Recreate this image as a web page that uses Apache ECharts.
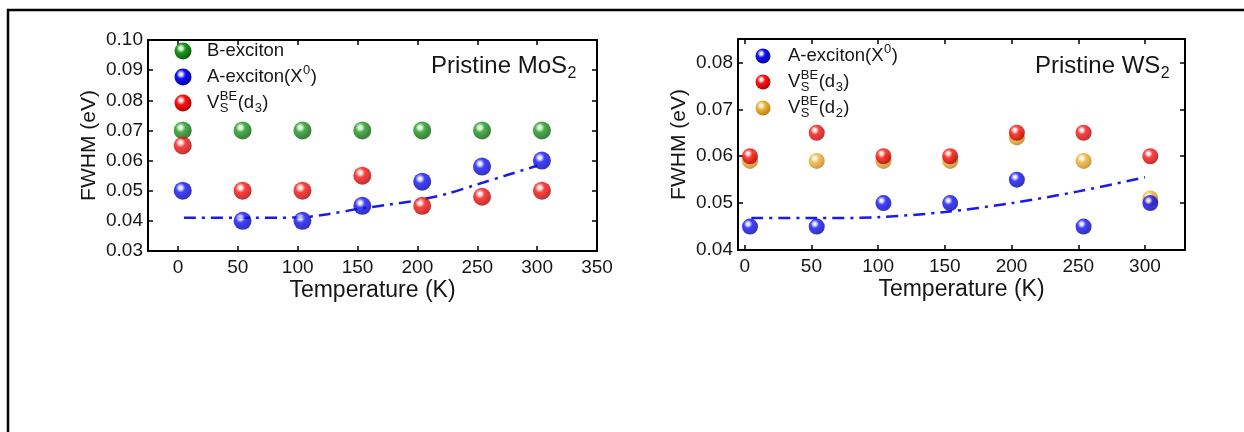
<!DOCTYPE html>
<html>
<head>
<meta charset="utf-8">
<script src="https://cdn.jsdelivr.net/npm/echarts@6/dist/echarts.min.js"></script>
<style>
  html, body { margin: 0; padding: 0; background: #fff; }
  #chart { width: 1244px; height: 432px; }
</style>
</head>
<body>
<div id="chart"></div>
<script>
// Measurement temperatures (K)
const temps = [4, 54, 104, 154, 204, 254, 304];

// Pristine MoS2 linewidths (eV)
const mosBExciton = [0.070, 0.070, 0.070, 0.070, 0.070, 0.070, 0.070];
const mosAExciton = [0.050, 0.040, 0.040, 0.045, 0.053, 0.058, 0.060];
const mosVsD3     = [0.065, 0.050, 0.050, 0.055, 0.045, 0.048, 0.050];
// Fitted A-exciton broadening curve, MoS2
const mosFitT = [5, 50, 100, 125, 150, 175, 200, 225, 250, 275, 300];
const mosFit  = [0.0410, 0.0410, 0.0411, 0.0422, 0.0439, 0.0453, 0.0468, 0.0490, 0.0521, 0.0552, 0.0583];

// Pristine WS2 linewidths (eV)
const wsAExciton = [0.045, 0.045, 0.050, 0.050, 0.055, 0.045, 0.050];
const wsVsD3     = [0.060, 0.065, 0.060, 0.060, 0.065, 0.065, 0.060];
const wsVsD2     = [0.059, 0.059, 0.059, 0.059, 0.064, 0.059, 0.051];
// Fitted A-exciton broadening curve, WS2
const wsFitT = [5, 50, 100, 150, 200, 250, 300];
const wsFit  = [0.0468, 0.0468, 0.0470, 0.0481, 0.0500, 0.0525, 0.0555];

// Tick labels
const mosXTicks = [0, 50, 100, 150, 200, 250, 300, 350];
const mosYTicks = [0.03, 0.04, 0.05, 0.06, 0.07, 0.08, 0.09, 0.10];
const wsXTicks  = [0, 50, 100, 150, 200, 250, 300];
const wsYTicks  = [0.04, 0.05, 0.06, 0.07, 0.08];

const FONT = 'Arial, "Liberation Sans", sans-serif';
const INK = '#161616';

const palette = {
  green:  ['#d8f5d8', '#1c9a1c', '#0b560b'],
  blue:   ['#dcdcff', '#1010ff', '#00009a'],
  red:    ['#ffe0e0', '#ff1010', '#a80000'],
  yellow: ['#fff3d8', '#efb23a', '#b87c10']
};

function sphere(name) {
  const c = palette[name];
  return new echarts.graphic.RadialGradient(0.38, 0.34, 0.7, [
    { offset: 0, color: '#ffffff' },
    { offset: 0.14, color: c[0] },
    { offset: 0.38, color: c[1] },
    { offset: 1, color: c[2] }
  ]);
}

function zip(xs, ys) { return xs.map((x, i) => [x, ys[i]]); }

// --- text helpers for legend/title with sub/superscripts ---
const measureCtx = document.createElement('canvas').getContext('2d');
function textWidth(s, size) {
  measureCtx.font = size + 'px ' + FONT;
  return measureCtx.measureText(s).width;
}
function txt(t, x, y, size) {
  return {
    type: 'text', x: x, y: y, z: 100,
    style: {
      text: t, font: size + 'px ' + FONT, fill: INK,
      textAlign: 'left', textVerticalAlign: 'middle',
      align: 'left', verticalAlign: 'middle'
    }
  };
}
function label(x, y, parts, size) {
  const els = [];
  let cx = x;
  parts.forEach(p => {
    if (typeof p === 'string') {
      els.push(txt(p, cx, y, size));
      cx += textWidth(p, size);
    } else {
      const s = Math.round(size * 0.68);
      let w = 0;
      if (p.sup !== undefined) {
        els.push(txt(p.sup, cx + 0.5, y - size * 0.38, s));
        w = Math.max(w, textWidth(p.sup, s));
      }
      if (p.sub !== undefined) {
        els.push(txt(p.sub, cx + 0.5, y + size * 0.32, s));
        w = Math.max(w, textWidth(p.sub, s));
      }
      cx += w + 1;
    }
  });
  return els;
}
function legendDot(x, y, r, colorName) {
  return { type: 'circle', z: 100, shape: { cx: x, cy: y, r: r }, style: { fill: sphere(colorName) } };
}

const chart = echarts.init(document.getElementById('chart'), null, { renderer: 'canvas' });

function xAxesFor(gi, min, max, ticks) {
  const common = {
    type: 'value', gridIndex: gi, min: min, max: max,
    splitLine: { show: false },
    axisLine: { show: true, onZero: false, lineStyle: { color: '#000', width: 2 } },
    axisTick: { show: true, inside: true, length: 5, customValues: ticks, lineStyle: { color: '#000', width: 1.5 } }
  };
  return [
    Object.assign({}, common, {
      position: 'bottom',
      axisLabel: { customValues: ticks, fontSize: 19, fontFamily: FONT, color: INK, margin: 7 },
      name: 'Temperature (K)', nameLocation: 'middle', nameGap: 28,
      nameTextStyle: { fontSize: 23, fontFamily: FONT, color: INK }
    }),
    Object.assign({}, common, { position: 'top', axisLabel: { show: false } })
  ];
}
function yAxesFor(gi, min, max, ticks) {
  const common = {
    type: 'value', gridIndex: gi, min: min, max: max,
    splitLine: { show: false },
    axisLine: { show: true, onZero: false, lineStyle: { color: '#000', width: 2 } },
    axisTick: { show: true, inside: true, length: 5, customValues: ticks, lineStyle: { color: '#000', width: 1.5 } }
  };
  return [
    Object.assign({}, common, {
      position: 'left',
      axisLabel: { customValues: ticks, fontSize: 19, fontFamily: FONT, color: INK, margin: 5, formatter: v => v.toFixed(2) },
      name: 'FWHM (eV)', nameLocation: 'middle', nameGap: 48,
      nameTextStyle: { fontSize: 21, fontFamily: FONT, color: INK }
    }),
    Object.assign({}, common, { position: 'right', axisLabel: { show: false } })
  ];
}

function scatter(xi, yi, data, colorName, size, z) {
  return {
    type: 'scatter', xAxisIndex: xi, yAxisIndex: yi, data: data,
    symbol: 'circle', symbolSize: size, z: z,
    itemStyle: { color: sphere(colorName) },
    emphasis: { disabled: true }
  };
}
function fitLine(xi, yi, data) {
  return {
    type: 'line', xAxisIndex: xi, yAxisIndex: yi, data: data,
    smooth: 0.3, showSymbol: false, z: 1,
    lineStyle: { color: '#1a1aee', width: 2.5, type: [12, 6, 3, 6] },
    emphasis: { disabled: true }
  };
}

const LEG = 18.5;
const graphics = [
  // outer border
  { type: 'polyline', z: 100, shape: { points: [[1250, 10], [8, 10], [8, 440]] }, style: { stroke: '#000', lineWidth: 2.5, fill: null } },
  // MoS2 legend
  legendDot(183, 51, 8.5, 'green'),
  legendDot(183, 77, 8.5, 'blue'),
  legendDot(183, 103, 8.5, 'red'),
  ...label(207, 51, ['B-exciton'], LEG),
  ...label(207, 77, ['A-exciton(X', { sup: '0' }, ')'], LEG),
  ...label(207, 103, ['V', { sup: 'BE', sub: 'S' }, '(d', { sub: '3' }, ')'], LEG),
  ...label(431, 66, ['Pristine MoS', { sub: '2' }], 24),
  // WS2 legend
  legendDot(763, 56, 7.5, 'blue'),
  legendDot(763, 82, 7.5, 'red'),
  legendDot(763, 108, 7.5, 'yellow'),
  ...label(788, 56, ['A-exciton(X', { sup: '0' }, ')'], LEG),
  ...label(788, 82, ['V', { sup: 'BE', sub: 'S' }, '(d', { sub: '3' }, ')'], LEG),
  ...label(788, 108, ['V', { sup: 'BE', sub: 'S' }, '(d', { sub: '2' }, ')'], LEG),
  ...label(1035, 66, ['Pristine WS', { sub: '2' }], 24)
];

const option = {
  backgroundColor: '#ffffff',
  animation: false,
  grid: [
    { left: 148, top: 40, width: 449, height: 211 },
    { left: 738, top: 39, width: 447, height: 211 }
  ],
  xAxis: [
    ...xAxesFor(0, -25, 350, mosXTicks),
    ...xAxesFor(1, -5, 330, wsXTicks)
  ],
  yAxis: [
    ...yAxesFor(0, 0.03, 0.10, mosYTicks),
    ...yAxesFor(1, 0.04, 0.085, wsYTicks)
  ],
  series: [
    fitLine(0, 0, zip(mosFitT, mosFit)),
    scatter(0, 0, zip(temps, mosBExciton), 'green', 18, 3),
    scatter(0, 0, zip(temps, mosAExciton), 'blue', 18, 4),
    scatter(0, 0, zip(temps, mosVsD3), 'red', 18, 5),
    fitLine(2, 2, zip(wsFitT, wsFit)),
    scatter(2, 2, zip(temps, wsVsD2), 'yellow', 16, 3),
    scatter(2, 2, zip(temps, wsVsD3), 'red', 16, 4),
    scatter(2, 2, zip(temps, wsAExciton), 'blue', 16, 5)
  ],
  graphic: graphics
};

chart.setOption(option);
</script>
</body>
</html>
